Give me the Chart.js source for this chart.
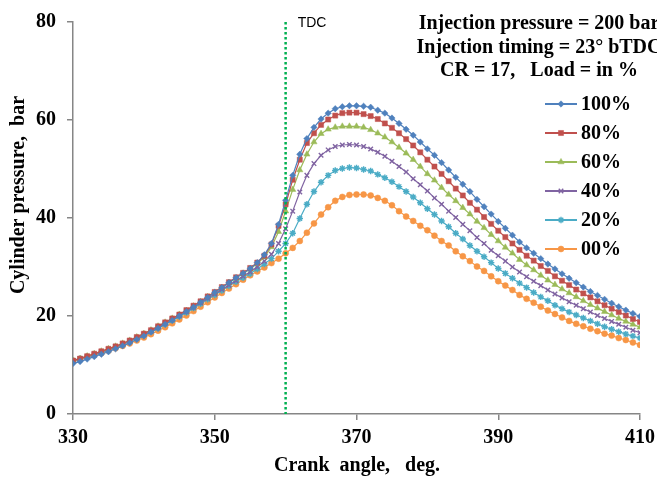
<!DOCTYPE html>
<html><head><meta charset="utf-8">
<script src="https://cdn.jsdelivr.net/npm/chart.js@4.4.0/dist/chart.umd.min.js"></script>
<style>html,body{margin:0;padding:0;background:#fff}#wrap{width:657px;height:480px;position:relative}</style>
</head><body><div id="wrap"><canvas id="c" width="657" height="480"></canvas></div>
<script>
const crankAngle = [330,331,332,333,334,335,336,337,338,339,340,341,342,343,344,345,346,347,348,349,350,351,352,353,354,355,356,357,358,359,360,361,362,363,364,365,366,367,368,369,370,371,372,373,374,375,376,377,378,379,380,381,382,383,384,385,386,387,388,389,390,391,392,393,394,395,396,397,398,399,400,401,402,403,404,405,406,407,408,409,410];

const load100 = [10.3,10.7,11.2,11.7,12.2,12.7,13.3,13.9,14.5,15.2,15.9,16.7,17.5,18.3,19.1,20.0,20.9,21.8,22.8,23.8,24.8,25.8,26.8,27.8,28.7,29.7,
  30.9,32.5,34.8,38.7,43.6,
  48.7,53.0,56.2,58.5,60.2,61.4,62.3,62.7,62.9,62.9,62.8,
  62.6,62.0,61.4,60.4,59.3,58.1,56.9,55.5,54.1,52.8,51.3,49.8,48.3,46.9,45.4,
  43.8,42.3,40.8,39.3,37.9,36.5,35.1,33.9,32.8,31.7,30.6,29.6,
  28.6,27.7,26.8,25.9,25.0,24.2,23.4,22.6,21.9,21.2,20.5,19.9];

const load80 = [10.9,11.3,11.8,12.3,12.8,13.3,13.8,14.4,15.0,15.7,16.4,17.1,17.9,18.7,19.5,20.3,21.2,22.1,23.0,24.0,24.9,25.9,26.9,27.9,28.8,29.8,
  30.9,32.3,34.6,38.4,42.8,
  47.8,51.9,55.3,57.3,59.0,60.1,60.9,61.4,61.5,61.5,61.2,
  60.8,60.2,59.3,58.4,57.3,56.1,54.8,53.4,51.9,50.5,49.0,47.5,46.0,44.6,43.1,
  41.7,40.2,38.8,37.4,36.1,34.8,33.5,32.3,31.3,30.2,29.2,28.1,
  27.2,26.3,25.4,24.6,23.8,23.0,22.2,21.5,20.8,20.1,19.4,18.8];

const load60 = [10.9,11.3,11.8,12.3,12.8,13.3,13.8,14.4,15.0,15.7,16.4,17.1,17.9,18.7,19.5,20.3,21.1,22.0,22.9,23.9,24.8,25.8,26.8,27.7,28.7,29.6,
  30.7,32.0,34.1,37.2,41.4,
  45.8,49.8,53.0,55.5,57.2,58.1,58.5,58.7,58.7,58.7,58.5,
  58.0,57.3,56.5,55.5,54.4,53.2,51.9,50.5,49.0,47.7,46.2,44.8,43.5,42.1,40.8,
  39.3,38.0,36.6,35.3,34.0,32.8,31.5,30.4,29.4,28.3,27.3,26.4,
  25.5,24.7,23.9,23.1,22.3,21.6,20.9,20.2,19.5,18.9,18.3,17.7];

const load40 = [10.9,11.3,11.7,12.2,12.7,13.2,13.7,14.3,14.9,15.5,16.2,16.9,17.7,18.5,19.3,20.1,20.9,21.8,22.7,23.6,24.5,25.4,26.3,27.2,28.1,29.0,
  30.0,31.2,32.6,34.8,37.8,
  41.4,45.3,48.7,51.1,52.8,53.9,54.6,54.9,55.0,54.9,54.6,
  54.1,53.4,52.6,51.6,50.5,49.4,48.0,46.8,45.5,44.1,42.8,41.4,40.1,38.7,37.4,
  36.0,34.8,33.4,32.3,31.2,30.0,29.0,28.0,27.1,26.2,25.3,24.5,
  23.7,22.9,22.2,21.5,20.8,20.1,19.5,18.9,18.3,17.7,17.1,16.6];

const load20 = [10.9,11.3,11.7,12.1,12.6,13.1,13.6,14.2,14.8,15.4,16.1,16.8,17.5,18.3,19.1,19.9,20.7,21.6,22.5,23.4,24.3,25.2,26.1,27.0,27.8,28.6,
  29.6,30.6,31.7,33.2,34.8,
  36.9,39.9,42.8,45.4,47.3,48.7,49.7,50.1,50.3,50.2,49.9,
  49.6,48.9,48.2,47.4,46.4,45.4,44.3,43.1,41.9,40.7,39.4,38.2,36.9,35.7,34.4,
  33.2,32.1,30.9,29.7,28.7,27.7,26.7,25.8,24.8,23.9,23.1,22.2,
  21.5,20.8,20.2,19.6,19.0,18.4,17.8,17.3,16.8,16.3,15.9,15.5];

const load00 = [10.8,11.2,11.6,12.0,12.4,12.9,13.4,13.9,14.4,15.0,15.6,16.3,17.0,17.7,18.5,19.3,20.1,21.0,21.9,22.8,23.8,24.7,25.6,26.5,27.4,28.3,
  29.1,29.9,30.8,31.7,32.8,
  33.9,35.3,37.0,38.9,40.7,42.2,43.5,44.3,44.7,44.8,44.8,
  44.6,44.1,43.5,42.6,41.4,40.3,39.4,38.4,37.5,36.4,35.3,34.4,33.2,32.2,31.2,
  30.1,29.2,28.1,27.1,26.2,25.3,24.3,23.5,22.7,21.9,21.1,20.4,
  19.7,19.0,18.4,17.9,17.4,16.9,16.4,16.0,15.5,15.1,14.6,14.1];

const seriesNames = ['100%','80%','60%','40%','20%','00%'];
const seriesColors = ['#4F81BD','#C0504D','#9BBB59','#8064A2','#4BACC6','#F79646'];
const seriesMarkers = ['rectRot','rect','triangle','crossRot','star','circle'];
const xTicks = [330,350,370,390,410];
const yTicks = [0,20,40,60,80];
const tdcAngle = 360;
const tdcLabel = 'TDC';
const infoLines = ['Injection pressure = 200 bar','Injection timing = 23\u00B0 bTDC','CR = 17,   Load = in %'];
const xTitle = 'Crank  angle,   deg.';
const yTitle = 'Cylinder pressure,  bar';

const seriesValues = [load100, load80, load60, load40, load20, load00];
const markerRadius = [3.2,3.6,3.6,3.2,3.2,3.0];

const datasets = seriesValues.map((vals, i) => ({
  label: seriesNames[i],
  data: vals.map((v, j) => ({x: crankAngle[j], y: v})),
  borderColor: seriesColors[i],
  backgroundColor: seriesColors[i],
  borderWidth: 1.2,
  pointStyle: seriesMarkers[i],
  pointRadius: markerRadius[i],
  pointBorderWidth: (seriesMarkers[i]==='crossRot'||seriesMarkers[i]==='star') ? 1.4 : 0.5,
  pointHoverRadius: markerRadius[i],
  tension: 0,
  fill: false
}));

const SERIF = "'Liberation Serif', 'Times New Roman', serif";

const decor = {
  id: 'decor',
  afterDatasetsDraw(chart) {
    const ctx = chart.ctx, xs = chart.scales.x, ca = chart.chartArea;
    const px = xs.getPixelForValue(tdcAngle);
    ctx.save();
    ctx.strokeStyle = '#00B050';
    ctx.lineWidth = 2.5;
    ctx.setLineDash([2.5, 2.5]);
    ctx.beginPath(); ctx.moveTo(px, ca.top); ctx.lineTo(px, ca.bottom); ctx.stroke();
    ctx.setLineDash([]);
    ctx.fillStyle = '#000';
    ctx.font = "14px 'Liberation Sans', Arial, sans-serif";
    ctx.textAlign = 'left'; ctx.textBaseline = 'middle';
    ctx.fillText(tdcLabel, px + 12, 23);
    // info text
    ctx.font = 'bold 20px ' + SERIF;
    ctx.textAlign = 'center'; ctx.textBaseline = 'alphabetic';
    const ly = [29, 53, 76];
    infoLines.forEach((t, i) => ctx.fillText(t, 539, ly[i]));
    // legend
    const lx0 = 545, lx1 = 577, rowY0 = 104, rowH = 29;
    chart.data.datasets.forEach((ds, i) => {
      const y = rowY0 + i * rowH;
      ctx.strokeStyle = ds.borderColor; ctx.lineWidth = 2;
      ctx.beginPath(); ctx.moveTo(lx0, y); ctx.lineTo(lx1, y); ctx.stroke();
      ctx.fillStyle = ds.backgroundColor; ctx.strokeStyle = ds.borderColor;
      ctx.lineWidth = ds.pointBorderWidth;
      Chart.helpers.drawPoint(ctx, {pointStyle: ds.pointStyle, radius: ds.pointRadius, rotation: 0, borderWidth: ds.pointBorderWidth}, (lx0+lx1)/2, y);
      ctx.fillStyle = '#000';
      ctx.font = 'bold 20px ' + SERIF;
      ctx.textAlign = 'left'; ctx.textBaseline = 'middle';
      ctx.fillText(ds.label, 581, y + 1);
    });
    // axis titles
    ctx.font = 'bold 20px ' + SERIF;
    ctx.textAlign = 'center'; ctx.textBaseline = 'middle';
    ctx.fillText(xTitle, 357, 466);
    ctx.font = 'bold 20px ' + SERIF;
    ctx.save();
    ctx.translate(19, 195); ctx.rotate(-Math.PI/2);
    ctx.fillText(yTitle, 0, 0);
    ctx.restore();
    ctx.restore();
  }
};

new Chart(document.getElementById('c'), {
  type: 'line',
  data: { datasets },
  options: {
    responsive: false,
    devicePixelRatio: 1,
    animation: false,
    events: [],
    layout: { padding: { top: 22, right: 17, left: 0, bottom: 0 } },
    plugins: { legend: { display: false }, tooltip: { enabled: false }, title: { display: false } },
    scales: {
      x: {
        type: 'linear', min: 330, max: 410,
        afterBuildTicks: s => { s.ticks = xTicks.map(v => ({value: v})); },
        afterFit: s => { s.height = 66; s.paddingLeft = 0; s.paddingRight = 0; },
        grid: { drawOnChartArea: false, drawTicks: true, tickLength: 6, color: '#868686', lineWidth: 1.5 },
        border: { color: '#868686', width: 1.5 },
        ticks: { color: '#000', font: { family: SERIF, size: 20, weight: 'bold' }, padding: 6, maxRotation: 0 }
      },
      y: {
        min: 0, max: 80,
        afterBuildTicks: s => { s.ticks = yTicks.map(v => ({value: v})); },
        afterFit: s => { s.width = 73; s.paddingTop = 0; s.paddingBottom = 0; },
        grid: { drawOnChartArea: false, drawTicks: true, tickLength: 6, color: '#868686', lineWidth: 1.5 },
        border: { color: '#868686', width: 1.5 },
        ticks: { color: '#000', font: { family: SERIF, size: 20, weight: 'bold' }, padding: 11 }
      }
    }
  },
  plugins: [decor]
});
</script>
</body></html>
